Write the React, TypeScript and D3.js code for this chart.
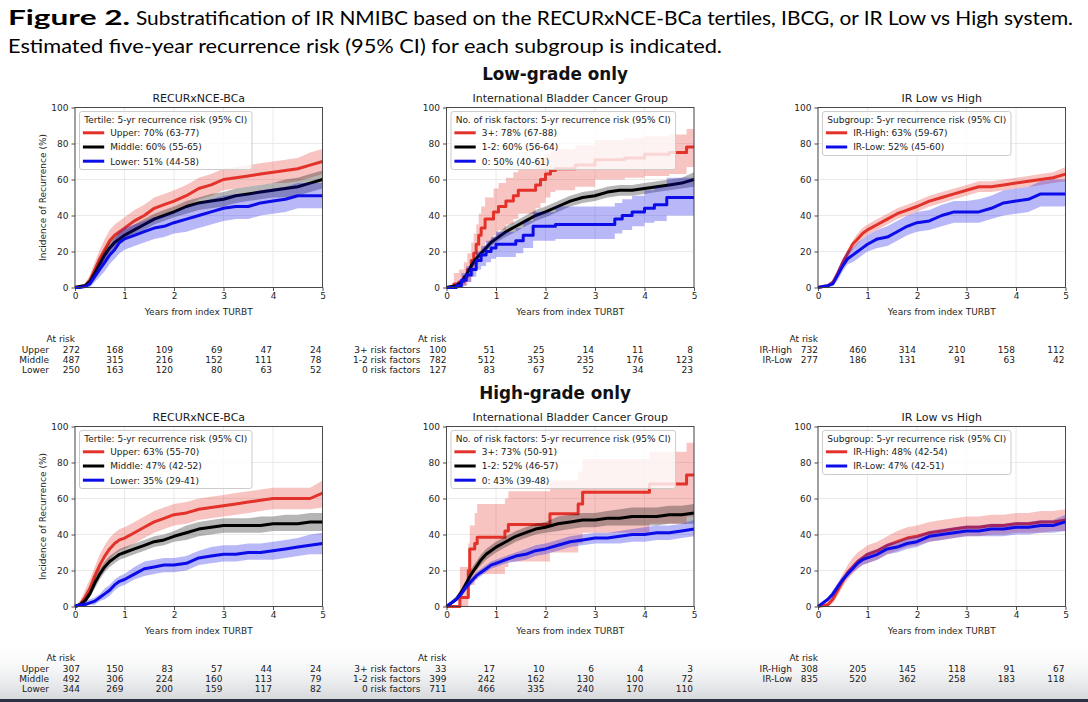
import * as React from 'react';
import {useEffect, useRef} from 'react';
import * as d3 from 'd3';

// Follow-up grid (years) used by the larger subgroups.
const years = [0, 0.1, 0.2, 0.3, 0.4, 0.5, 0.6, 0.7, 0.8, 0.9, 1, 1.2, 1.4, 1.6, 1.8, 2, 2.25, 2.5, 2.75, 3, 3.25, 3.5, 3.75, 4, 4.25, 4.5, 4.75, 5];
const riskYears = [0, 1, 2, 3, 4, 5];

// ---- Low-grade only ----
// RECURxNCE-BCa tertiles
const lgUpper = [0, 0.5, 1, 4, 10, 16, 21, 26, 29, 31, 33, 37, 40, 44, 46, 48, 51, 55, 57, 60, 61, 62, 63, 64, 65, 66, 68, 70];
const lgUpperLo = [0, 0, 0, 2, 6, 11, 15, 20, 23, 25, 27, 31, 34, 38, 40, 42, 45, 49, 51, 54, 55, 56, 57, 58, 58, 59, 61, 63];
const lgUpperHi = [0, 1, 2, 7, 14, 21, 27, 32, 35, 37, 39, 43, 46, 50, 52, 54, 57, 61, 63, 66, 67, 68, 69, 70, 71, 72, 75, 77];
const lgMiddle = [0, 0.5, 1, 3, 8, 13, 18, 22, 25, 27, 29, 32, 35, 38, 40, 42, 45, 47, 48, 49, 51, 52, 53, 54, 55, 56, 58, 60];
const lgMiddleLo = [0, 0, 0, 2, 6, 10, 15, 19, 22, 24, 26, 29, 32, 35, 37, 39, 41, 43, 44, 45, 47, 48, 49, 50, 50, 51, 53, 55];
const lgMiddleHi = [0, 1, 2, 5, 10, 16, 21, 25, 28, 30, 32, 35, 38, 41, 43, 45, 48, 50, 52, 53, 55, 56, 57, 58, 60, 61, 63, 65];
const lgLower = [0, 0, 0.5, 2, 6, 10, 14, 18, 21, 25, 27, 29, 31, 33, 34, 36, 38, 40, 42, 44, 45, 45, 47, 48, 49, 51, 51, 51];
const lgLowerLo = [0, 0, 0, 0, 3, 6, 9, 13, 16, 19, 21, 23, 25, 27, 28, 30, 31, 33, 35, 37, 38, 38, 40, 41, 42, 44, 44, 44];
const lgLowerHi = [0, 0, 1, 4, 9, 14, 19, 23, 27, 31, 33, 35, 37, 39, 40, 42, 45, 47, 49, 51, 52, 52, 54, 55, 56, 58, 58, 58];

// IBCG number of risk factors (3+ and 0 are small groups with visible steps)
const lg3Years = [0, 0.15, 0.25, 0.35, 0.42, 0.5, 0.55, 0.6, 0.65, 0.7, 0.78, 0.95, 1.05, 1.2, 1.35, 1.45, 1.8, 1.9, 2, 2.1, 2.2, 2.6, 3, 3.6, 4, 4.5, 4.85];
const lg3 = [0, 2, 3, 6, 10, 15, 19, 24, 29, 33, 38, 42, 45, 48, 51, 54, 57, 60, 63, 65, 66, 68, 71, 72, 74, 75, 78];
const lg3Lo = [0, 0, 0, 1, 3, 6, 9, 13, 17, 20, 25, 29, 32, 35, 38, 41, 44, 47, 50, 53, 54, 56, 60, 61, 62, 63, 67];
const lg3Hi = [0, 8, 10, 14, 19, 25, 30, 35, 41, 45, 50, 55, 58, 61, 64, 66, 69, 72, 74, 76, 77, 79, 82, 83, 84, 85, 88];
const lg12 = [0, 0.5, 1, 3, 7, 12, 16, 19, 22, 25, 27, 31, 34, 37, 40, 42, 45, 48, 50, 51, 53, 54, 54, 55, 56, 57, 58, 60];
const lg12Lo = [0, 0, 0.5, 2, 6, 10, 14, 17, 20, 23, 25, 28, 31, 34, 37, 39, 42, 45, 47, 48, 50, 51, 51, 52, 53, 54, 55, 56];
const lg12Hi = [0, 1, 2, 4, 8, 14, 18, 21, 24, 27, 29, 34, 37, 40, 43, 45, 48, 51, 53, 54, 56, 57, 57, 58, 59, 60, 61, 64];
const lg0Years = [0, 0.2, 0.3, 0.4, 0.5, 0.6, 0.7, 0.8, 0.9, 1, 1.4, 1.55, 1.75, 2.2, 3.4, 3.55, 3.75, 4, 4.2, 4.45];
const lg0 = [0, 1, 4, 7, 10, 15, 18, 20, 22, 24, 26, 29, 34, 35, 38, 40, 42, 44, 46, 50];
const lg0Lo = [0, 0, 1, 3, 6, 10, 12, 14, 16, 17, 19, 22, 26, 27, 30, 32, 34, 36, 37, 40];
const lg0Hi = [0, 3, 8, 12, 15, 20, 23, 26, 28, 31, 33, 37, 42, 45, 47, 49, 51, 54, 56, 61];

// IR Low vs High
const lgIrHigh = [0, 0.5, 1, 3, 8, 14, 19, 24, 27, 30, 32, 35, 38, 41, 43, 45, 48, 50, 52, 54, 56, 56, 57, 58, 59, 60, 61, 63];
const lgIrHighLo = [0, 0, 0.5, 2, 6, 12, 17, 21, 24, 27, 29, 32, 35, 38, 40, 42, 45, 47, 49, 51, 53, 53, 54, 55, 56, 57, 58, 59];
const lgIrHighHi = [0, 1, 2, 4, 10, 16, 21, 26, 30, 33, 35, 38, 41, 44, 46, 48, 51, 53, 55, 57, 59, 59, 60, 61, 62, 63, 64, 67];
const lgIrLow = [0, 0.5, 1, 2, 7, 12, 16, 18, 20, 22, 24, 27, 28, 31, 34, 36, 37, 40, 42, 42, 42, 44, 47, 48, 49, 52, 52, 52];
const lgIrLowLo = [0, 0, 0, 1, 4, 9, 13, 14, 16, 18, 20, 22, 23, 26, 29, 31, 32, 34, 36, 36, 36, 38, 40, 41, 42, 45, 45, 45];
const lgIrLowHi = [0, 1, 2, 4, 10, 16, 20, 22, 25, 27, 29, 32, 34, 37, 40, 42, 43, 46, 48, 48, 49, 51, 54, 55, 56, 59, 60, 60];

// ---- High-grade only ----
const hgUpper = [0, 1, 5, 10, 17, 23, 28, 32, 35, 37, 38, 41, 44, 47, 49, 51, 52, 54, 55, 56, 57, 58, 59, 60, 60, 60, 60, 63];
const hgUpperLo = [0, 0, 2, 6, 12, 17, 22, 26, 29, 31, 32, 35, 38, 41, 43, 45, 46, 48, 49, 50, 51, 52, 53, 54, 54, 54, 54, 55];
const hgUpperHi = [0, 3, 9, 15, 22, 29, 34, 38, 41, 43, 44, 47, 50, 53, 55, 57, 58, 60, 61, 62, 63, 64, 65, 66, 66, 66, 66, 70];
const hgMiddle = [0, 1, 3, 7, 13, 18, 22, 25, 27, 29, 30, 32, 34, 36, 37, 39, 41, 43, 44, 45, 45, 45, 45, 46, 46, 46, 47, 47];
const hgMiddleLo = [0, 0, 2, 5, 10, 15, 19, 22, 24, 26, 27, 29, 31, 33, 34, 36, 37, 39, 40, 41, 41, 41, 41, 42, 42, 42, 42, 42];
const hgMiddleHi = [0, 2, 5, 9, 16, 21, 25, 28, 30, 32, 33, 35, 37, 39, 40, 42, 45, 47, 48, 49, 49, 49, 50, 50, 51, 51, 52, 52];
const hgLower = [0, 1, 1, 2, 3, 5, 7, 9, 12, 14, 15, 18, 21, 22, 23, 23, 24, 27, 28, 29, 29, 30, 30, 31, 32, 33, 34, 35];
const hgLowerLo = [0, 0, 0, 1, 1, 3, 4, 6, 9, 11, 12, 15, 17, 18, 19, 19, 20, 23, 24, 25, 25, 26, 26, 26, 27, 28, 29, 29];
const hgLowerHi = [0, 2, 3, 4, 5, 7, 10, 12, 15, 17, 18, 22, 25, 26, 27, 27, 28, 31, 33, 34, 34, 35, 35, 36, 37, 38, 40, 41];

const hg3Years = [0, 0.27, 0.44, 0.47, 0.57, 0.62, 1.18, 1.25, 2.09, 2.66, 2.75, 4.1, 4.85];
const hg3 = [0, 5, 20, 32, 35, 38.5, 42, 45.5, 51.5, 57, 63.5, 68, 73];
const hg3Lo = [0, 0, 5, 12, 15, 18, 22, 25, 30, 35, 41, 46, 50];
const hg3Hi = [0, 22, 35, 45, 52, 57, 60, 64, 70, 75, 82, 86, 91];
const hg12 = [0, 2, 4, 8, 13, 18, 22, 26, 29, 31, 33, 36, 39, 41, 43, 44, 46, 47, 48, 48, 49, 49, 50, 50, 50, 51, 51, 52];
const hg12Lo = [0, 1, 3, 6, 11, 16, 20, 23, 26, 28, 30, 33, 36, 38, 40, 41, 42, 43, 44, 44, 45, 45, 45, 45, 45, 46, 46, 46];
const hg12Hi = [0, 3, 6, 10, 15, 21, 25, 29, 32, 34, 36, 39, 42, 44, 46, 47, 50, 51, 52, 52, 53, 54, 55, 55, 55, 56, 56, 57];
const hg0 = [0, 2, 4, 7, 11, 14, 17, 19, 21, 23, 24, 26, 28, 29, 31, 32, 34, 36, 37, 38, 38, 39, 40, 40, 41, 41, 42, 43];
const hg0Lo = [0, 1, 3, 6, 9, 12, 15, 17, 19, 21, 22, 24, 25, 26, 28, 29, 31, 33, 34, 35, 35, 35, 36, 36, 37, 37, 38, 39];
const hg0Hi = [0, 3, 5, 9, 13, 16, 19, 21, 23, 25, 26, 28, 30, 32, 34, 35, 37, 39, 40, 41, 41, 42, 43, 44, 45, 45, 46, 48];

const hgIrHigh = [0, 0.5, 1, 4, 9, 14, 19, 22, 25, 27, 29, 31, 34, 36, 38, 39, 41, 42, 43, 44, 44, 45, 45, 46, 46, 47, 47, 48];
const hgIrHighLo = [0, 0, 0, 2, 6, 11, 15, 18, 21, 23, 24, 26, 29, 31, 33, 34, 36, 37, 38, 39, 39, 40, 40, 41, 41, 41, 42, 42];
const hgIrHighHi = [0, 1, 3, 7, 13, 18, 23, 27, 30, 32, 34, 36, 39, 42, 44, 45, 47, 48, 49, 50, 50, 51, 51, 52, 52, 53, 53, 54];
const hgIrLow = [0, 2, 4, 7, 11, 15, 18, 21, 24, 26, 27, 29, 32, 33, 35, 36, 39, 40, 41, 42, 42, 43, 43, 44, 44, 45, 45, 47];
const hgIrLowLo = [0, 1, 3, 5, 9, 13, 16, 19, 21, 23, 24, 26, 29, 30, 32, 33, 36, 37, 38, 39, 39, 39, 39, 40, 40, 41, 41, 42];
const hgIrLowHi = [0, 3, 5, 9, 13, 17, 20, 23, 26, 28, 30, 32, 35, 36, 38, 39, 42, 43, 44, 45, 45, 46, 46, 47, 47, 48, 48, 51];

// Numbers at risk at 0..5 years
const lgRiskTertile = [[272, 168, 109, 69, 47, 24], [487, 315, 216, 152, 111, 78], [250, 163, 120, 80, 63, 52]];
const lgRiskIbcg = [[100, 51, 25, 14, 11, 8], [782, 512, 353, 235, 176, 123], [127, 83, 67, 52, 34, 23]];
const lgRiskIr = [[732, 460, 314, 210, 158, 112], [277, 186, 131, 91, 63, 42]];
const hgRiskTertile = [[307, 150, 83, 57, 44, 24], [492, 306, 224, 160, 113, 79], [344, 269, 200, 159, 117, 82]];
const hgRiskIbcg = [[33, 17, 10, 6, 4, 3], [399, 242, 162, 130, 100, 72], [711, 466, 335, 240, 170, 110]];
const hgRiskIr = [[308, 205, 145, 118, 91, 67], [835, 520, 362, 258, 183, 118]];

const tertileNames = ['Upper', 'Middle', 'Lower'];
const ibcgNames = ['3+', '1-2', '0'];
const ibcgRiskNames = ['3+ risk factors', '1-2 risk factors', '0 risk factors'];
const irNames = ['IR-High', 'IR-Low'];

const RED = '#e2322a';
const BLACK = '#000000';
const BLUE = '#0c0ce8';
const FONT = 'DejaVu Sans, sans-serif';
const CAPTION_FONT = 'Lato, "Open Sans", sans-serif';

interface Series {
  name: string;
  color: string;
  t: number[];
  est: number[];
  lo: number[];
  hi: number[];
  step: boolean;
}

interface Panel {
  row: number;
  col: number;
  title: string;
  legendTitle: string;
  series: Series[];
  riskNames: string[];
  risk: number[][];
}

const mk = (name: string, color: string, t: number[], est: number[], lo: number[], hi: number[], step = false): Series =>
  ({name, color, t, est, lo, hi, step});

const panels: Panel[] = [
  {row: 0, col: 0, title: 'RECURxNCE-BCa', legendTitle: 'Tertile: 5-yr recurrence risk (95% CI)',
    series: [mk(tertileNames[0], RED, years, lgUpper, lgUpperLo, lgUpperHi), mk(tertileNames[1], BLACK, years, lgMiddle, lgMiddleLo, lgMiddleHi), mk(tertileNames[2], BLUE, years, lgLower, lgLowerLo, lgLowerHi)],
    riskNames: tertileNames, risk: lgRiskTertile},
  {row: 0, col: 1, title: 'International Bladder Cancer Group', legendTitle: 'No. of risk factors: 5-yr recurrence risk (95% CI)',
    series: [mk(ibcgNames[0], RED, lg3Years, lg3, lg3Lo, lg3Hi, true), mk(ibcgNames[1], BLACK, years, lg12, lg12Lo, lg12Hi), mk(ibcgNames[2], BLUE, lg0Years, lg0, lg0Lo, lg0Hi, true)],
    riskNames: ibcgRiskNames, risk: lgRiskIbcg},
  {row: 0, col: 2, title: 'IR Low vs High', legendTitle: 'Subgroup: 5-yr recurrence risk (95% CI)',
    series: [mk(irNames[0], RED, years, lgIrHigh, lgIrHighLo, lgIrHighHi), mk(irNames[1], BLUE, years, lgIrLow, lgIrLowLo, lgIrLowHi)],
    riskNames: irNames, risk: lgRiskIr},
  {row: 1, col: 0, title: 'RECURxNCE-BCa', legendTitle: 'Tertile: 5-yr recurrence risk (95% CI)',
    series: [mk(tertileNames[0], RED, years, hgUpper, hgUpperLo, hgUpperHi), mk(tertileNames[1], BLACK, years, hgMiddle, hgMiddleLo, hgMiddleHi), mk(tertileNames[2], BLUE, years, hgLower, hgLowerLo, hgLowerHi)],
    riskNames: tertileNames, risk: hgRiskTertile},
  {row: 1, col: 1, title: 'International Bladder Cancer Group', legendTitle: 'No. of risk factors: 5-yr recurrence risk (95% CI)',
    series: [mk(ibcgNames[0], RED, hg3Years, hg3, hg3Lo, hg3Hi, true), mk(ibcgNames[1], BLACK, years, hg12, hg12Lo, hg12Hi), mk(ibcgNames[2], BLUE, years, hg0, hg0Lo, hg0Hi)],
    riskNames: ibcgRiskNames, risk: hgRiskIbcg},
  {row: 1, col: 2, title: 'IR Low vs High', legendTitle: 'Subgroup: 5-yr recurrence risk (95% CI)',
    series: [mk(irNames[0], RED, years, hgIrHigh, hgIrHighLo, hgIrHighHi), mk(irNames[1], BLUE, years, hgIrLow, hgIrLowLo, hgIrLowHi)],
    riskNames: irNames, risk: hgRiskIr},
];

const W = 1088;
const H = 702;
const colX = [75, 446.5, 818];
const rowTop = [107.5, 426.5];
const plotW = 247.5;
const plotH = 180;
const firstCountShift = [5, 0, 0];

export default function App() {
  const ref = useRef<SVGSVGElement>(null);

  useEffect(() => {
    const svg = d3.select(ref.current);
    svg.selectAll('*').remove();

    // faint shadow along the lower edge
    const defs = svg.append('defs');
    const grad = defs.append('linearGradient').attr('id', 'edge-shade').attr('x1', 0).attr('y1', 0).attr('x2', 0).attr('y2', 1);
    grad.append('stop').attr('offset', '0%').attr('stop-color', '#ffffff').attr('stop-opacity', 0);
    grad.append('stop').attr('offset', '100%').attr('stop-color', '#d6d8dc').attr('stop-opacity', 1);
    svg.append('rect').attr('x', 0).attr('y', 640).attr('width', W).attr('height', 59).attr('fill', 'url(#edge-shade)');
    svg.append('rect').attr('x', 0).attr('y', 699).attr('width', W).attr('height', 3).attr('fill', '#2b3243');

    // figure caption
    svg.append('text').attr('x', 8).attr('y', 25)
      .attr('font-family', CAPTION_FONT).attr('font-size', 20).attr('font-weight', 'bold')
      .attr('textLength', 122).attr('lengthAdjust', 'spacingAndGlyphs')
      .text('Figure 2.');
    svg.append('text').attr('x', 136).attr('y', 25)
      .attr('font-family', CAPTION_FONT).attr('font-size', 20)
      .attr('textLength', 937).attr('lengthAdjust', 'spacingAndGlyphs')
      .text('Substratification of IR NMIBC based on the RECURxNCE-BCa tertiles, IBCG, or IR Low vs High system.');
    svg.append('text').attr('x', 8).attr('y', 53)
      .attr('font-family', CAPTION_FONT).attr('font-size', 20)
      .attr('textLength', 714).attr('lengthAdjust', 'spacingAndGlyphs')
      .text('Estimated five-year recurrence risk (95% CI) for each subgroup is indicated.');

    ['Low-grade only', 'High-grade only'].forEach((s, i) => {
      svg.append('text').attr('x', 555).attr('y', rowTop[i] - 27.5)
        .attr('text-anchor', 'middle').attr('font-family', FONT).attr('font-size', 16.8).attr('font-weight', 'bold')
        .attr('fill', '#111').text(s);
    });

    panels.forEach(p => {
      const x0 = colX[p.col];
      const top = rowTop[p.row];
      const bottom = top + plotH;
      const x = d3.scaleLinear().domain([0, 5]).range([x0, x0 + plotW]);
      const y = d3.scaleLinear().domain([0, 100]).range([bottom, top]);
      const g = svg.append('g');

      // grid
      g.append('g').selectAll('line').data(x.ticks(5)).join('line')
        .attr('x1', d => x(d)).attr('x2', d => x(d)).attr('y1', top).attr('y2', bottom)
        .attr('stroke', '#e4e4e4').attr('stroke-width', 0.8);
      g.append('g').selectAll('line').data(y.ticks(5)).join('line')
        .attr('x1', x0).attr('x2', x0 + plotW).attr('y1', d => y(d)).attr('y2', d => y(d))
        .attr('stroke', '#e4e4e4').attr('stroke-width', 0.8);

      // bands and curves
      p.series.forEach(s => {
        const pts = s.t.map((t, i) => ({t, est: s.est[i], lo: s.lo[i], hi: s.hi[i]}));
        if (pts[pts.length - 1].t < 5) pts.push({...pts[pts.length - 1], t: 5});
        const curve = s.step ? d3.curveStepAfter : d3.curveLinear;
        const area = d3.area<typeof pts[0]>().curve(curve)
          .x(d => x(d.t)).y0(d => y(d.lo)).y1(d => y(d.hi));
        const line = d3.line<typeof pts[0]>().curve(curve)
          .x(d => x(d.t)).y(d => y(d.est));
        g.append('path').attr('d', area(pts)).attr('fill', s.color).attr('fill-opacity', 0.29);
        g.append('path').attr('d', line(pts)).attr('fill', 'none')
          .attr('stroke', s.color).attr('stroke-width', 3).attr('stroke-linejoin', 'round');
      });

      // spines
      g.append('rect').attr('x', x0).attr('y', top).attr('width', plotW).attr('height', plotH)
        .attr('fill', 'none').attr('stroke', '#3a3a3a').attr('stroke-width', 0.9);

      // axes
      const xAxis = g.append('g').attr('transform', `translate(0,${bottom})`)
        .call(d3.axisBottom(x).ticks(5).tickSize(3.5).tickPadding(1.5).tickFormat(d3.format('d')));
      const yAxis = g.append('g').attr('transform', `translate(${x0},0)`)
        .call(d3.axisLeft(y).ticks(5).tickSize(3.5).tickPadding(3).tickFormat(d3.format('d')));
      [xAxis, yAxis].forEach(a => {
        a.select('.domain').remove();
        a.selectAll('line').attr('stroke', '#3a3a3a').attr('stroke-width', 0.9);
        a.selectAll('text').attr('font-family', FONT).attr('font-size', 9).attr('fill', '#262626');
      });

      g.append('text').attr('x', x0 + plotW / 2).attr('y', top - 6)
        .attr('text-anchor', 'middle').attr('font-family', FONT).attr('font-size', 11).attr('fill', '#1a1a1a')
        .text(p.title);
      g.append('text').attr('x', x0 + plotW / 2).attr('y', bottom + 27)
        .attr('text-anchor', 'middle').attr('font-family', FONT).attr('font-size', 9).attr('fill', '#262626')
        .text('Years from index TURBT');
      if (p.col === 0) {
        g.append('text').attr('transform', `translate(46,${top + plotH / 2}) rotate(-90)`)
          .attr('text-anchor', 'middle').attr('font-family', FONT).attr('font-size', 9).attr('fill', '#262626')
          .text('Incidence of Recurrence (%)');
      }

      // legend
      const bx = x0 + 4.5;
      const by = top + 4;
      const lg = g.append('g');
      const box = lg.append('rect').attr('x', bx).attr('y', by).attr('rx', 2.5)
        .attr('height', 16 + 14 * p.series.length)
        .attr('fill', '#ffffff').attr('fill-opacity', 0.8).attr('stroke', '#cccccc');
      const title = lg.append('text').attr('y', by + 11)
        .attr('font-family', FONT).attr('font-size', 9).attr('fill', '#1a1a1a')
        .attr('text-anchor', 'middle').text(p.legendTitle);
      let widest = (title.node() as SVGTextElement).getComputedTextLength();
      p.series.forEach((s, i) => {
        const cy = by + 21.3 + 14.2 * i;
        const n = s.est.length - 1;
        lg.append('line').attr('x1', bx + 3.4).attr('x2', bx + 24.7).attr('y1', cy).attr('y2', cy)
          .attr('stroke', s.color).attr('stroke-width', 3);
        const t = lg.append('text').attr('x', bx + 30.7).attr('y', cy + 3.3)
          .attr('font-family', FONT).attr('font-size', 9).attr('fill', '#1a1a1a')
          .text(`${s.name}: ${Math.round(s.est[n])}% (${s.lo[n]}-${s.hi[n]})`);
        widest = Math.max(widest, (t.node() as SVGTextElement).getComputedTextLength() + 26.2);
      });
      const bw = widest + 9.5;
      box.attr('width', bw);
      title.attr('x', bx + bw / 2);

      // numbers at risk
      const tbl = g.append('g').attr('font-family', FONT).attr('font-size', 9).attr('fill', '#1a1a1a');
      tbl.append('text').attr('x', x0).attr('y', bottom + 54.5).attr('text-anchor', 'end').text('At risk');
      p.risk.forEach((counts, r) => {
        const ty = bottom + 65 + 10.1 * r;
        tbl.append('text').attr('x', x0 - 26).attr('y', ty).attr('text-anchor', 'end').text(p.riskNames[r]);
        counts.forEach((c, k) => {
          const tx = k === 0 ? x0 + firstCountShift[p.col] : x(riskYears[k]) - 1;
          tbl.append('text').attr('x', tx).attr('y', ty).attr('text-anchor', 'end').text(c);
        });
      });
    });
  }, []);

  return (
    <svg ref={ref} width={W} height={H}
      style={{position: 'absolute', left: 0, top: 0, background: '#ffffff', display: 'block'}}/>
  );
}
